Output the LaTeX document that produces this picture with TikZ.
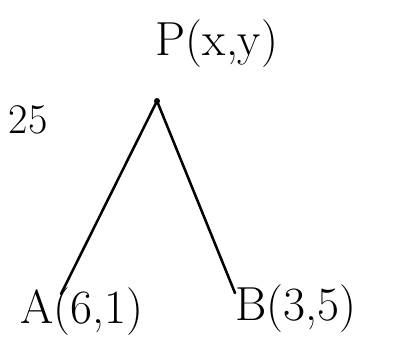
\documentclass[tikz,border=0pt]{standalone}
\tikzset{
  hand/.style={font=\fontsize{34}{38}\selectfont, inner sep=0pt},
  pen/.style={line width=1.8pt, line cap=round}
}
\begin{document}
\begin{tikzpicture}[x=0.025cm, y=-0.025cm]
  \useasboundingbox (0,0) rectangle (393,340);
  % points
  \coordinate (P) at (157,101);
  \coordinate (A) at (61,294);
  \coordinate (B) at (235,293);
  \fill (P) circle (3);
  % sides
  \draw[pen] (P) -- (A);
  \draw[pen] (P) -- (B);
  % labels
  \node[hand] (Plabel) at (217,44) {P(x,y)};
  \node[hand] (Alabel) at (82,312) {A(6,1)};
  \node[hand] (Blabel) at (296,309) {B(3,5)};
  \node[font=\fontsize{30}{34}\selectfont, inner sep=0pt] (num) at (28,120) {25};
\end{tikzpicture}
\end{document}
